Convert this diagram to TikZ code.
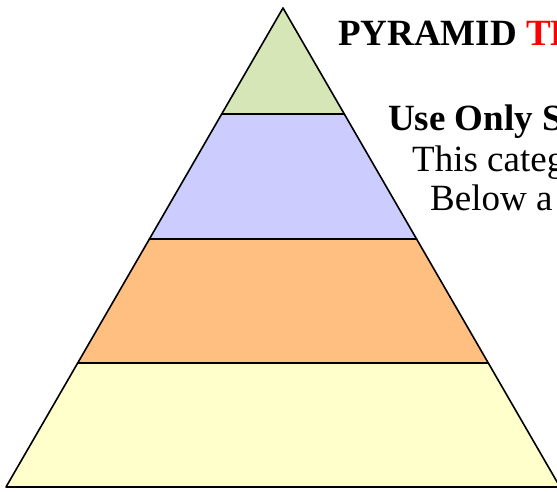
\documentclass[tikz,border=0pt]{standalone}
\usepackage{fontspec}
\setmainfont{Liberation Serif}
\usetikzlibrary{calc}

\definecolor{tiergreen}{HTML}{D7E6B6}
\definecolor{tierblue}{HTML}{CCCCFF}
\definecolor{tierorange}{HTML}{FFBF80}
\definecolor{tieryellow}{HTML}{FFFFCC}

\begin{document}
\begin{tikzpicture}[x=1pt, y=-1pt,
  tier/.style={draw=black, line width=1.6pt, line join=round},
  txt/.style={anchor=base west, inner sep=0pt, font=\fontsize{37}{40}\selectfont},
]
\useasboundingbox (0,0) rectangle (557,491);

% Outline of the pyramid
\coordinate (apex) at (283,8);
\coordinate (bl) at (6,487);
\coordinate (br) at (560,487);

% Split points along both sides
\coordinate (l1) at ($(apex)!0.2213!(bl)$);
\coordinate (r1) at ($(apex)!0.2213!(br)$);
\coordinate (l2) at ($(apex)!0.4823!(bl)$);
\coordinate (r2) at ($(apex)!0.4823!(br)$);
\coordinate (l3) at ($(apex)!0.7411!(bl)$);
\coordinate (r3) at ($(apex)!0.7411!(br)$);

% Tiers, top to bottom
\draw[tier,fill=tiergreen]  (apex) -- (r1) -- (l1) -- cycle;
\draw[tier,fill=tierblue]   (l1) -- (r1) -- (r2) -- (l2) -- cycle;
\draw[tier,fill=tierorange] (l2) -- (r2) -- (r3) -- (l3) -- cycle;
\draw[tier,fill=tieryellow] (l3) -- (r3) -- (br) -- (bl) -- cycle;

% Heading and text (cut off by the page edge)
\node[txt] (title) at (338,45) {\bfseries PYRAMID \textcolor{red}{TH}};
\node[txt] (usage) at (388,130) {\bfseries Use Only S};
\node[txt] (line1) at (412,171) {This categ};
\node[txt] (line2) at (430,210) {Below a};

\end{tikzpicture}
\end{document}
